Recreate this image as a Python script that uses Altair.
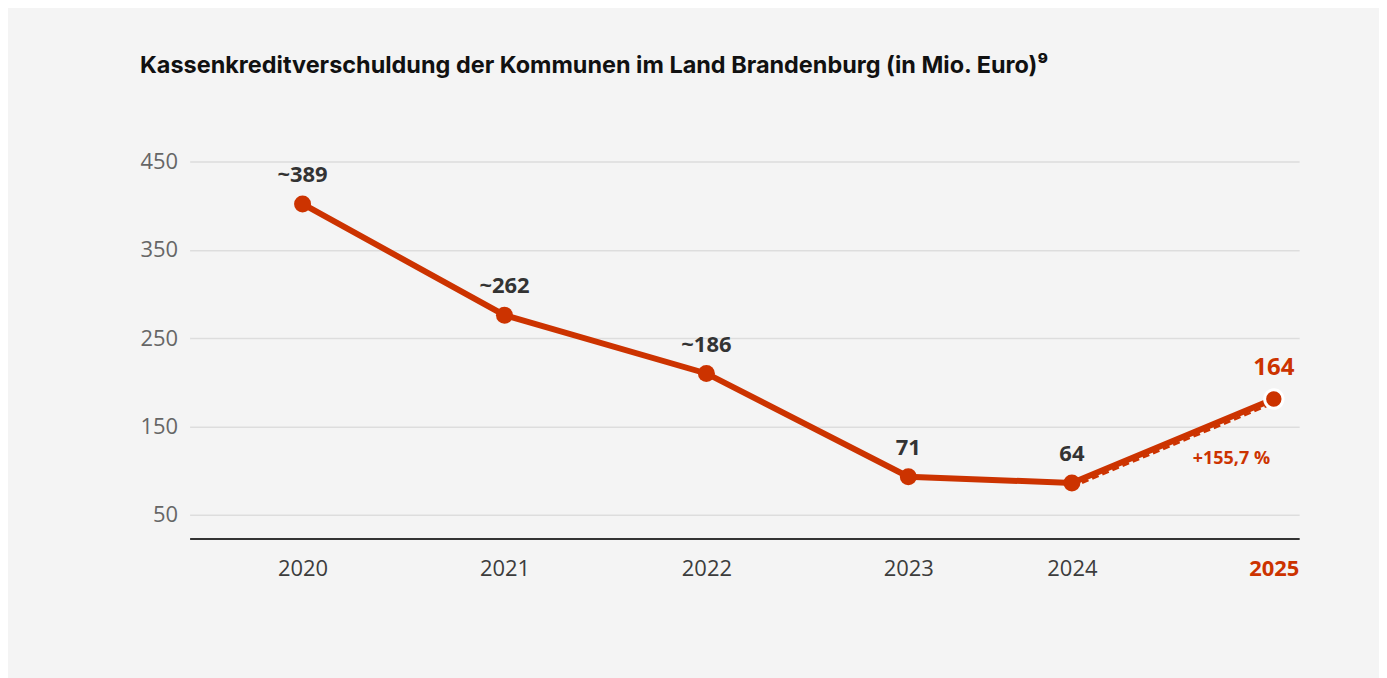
import altair as alt
import pandas as pd

# ---- data ----
years = ["2020", "2021", "2022", "2023", "2024", "2025"]
# position on the time axis as drawn in the reference (2024/2025 sit closer together)
x_pos = [2020.0, 2021.0, 2022.0, 2023.0, 2023.81, 2024.81]
# plotted heights of the points (as drawn)
values = [402, 276, 210, 93, 86, 181]
# printed labels above the points
labels = ["~389", "~262", "~186", "71", "64", "164"]
y_ticks = [50, 150, 250, 350, 450]
change_text = ["+155,7 %"]
change_x = [2024.60]
change_y = [113]

RED = "#cc3300"
DARK = "#333333"
TITLE = "Kassenkreditverschuldung der Kommunen im Land Brandenburg (in Mio. Euro)\u2079"

df = pd.DataFrame({
    "year": years,
    "x": x_pos,
    "value": values,
    "label": labels,
    "last": [False] * (len(years) - 1) + [True],
})
ann = pd.DataFrame({"x": change_x, "y": change_y, "text": change_text})

label_map = " : ".join(
    [f"abs(datum.value - {p}) < 0.01 ? '{y}'" for p, y in zip(x_pos, years)]
) + " : ''"

x_scale = alt.Scale(domain=[2019.4406, 2024.9356], nice=False, zero=False)
y_scale = alt.Scale(domain=[23, 475], nice=False, zero=False)

x_enc = alt.X(
    "x:Q",
    scale=x_scale,
    axis=alt.Axis(
        values=x_pos,
        labelExpr=label_map,
        title=None,
        grid=False,
        ticks=False,
        domain=True,
        domainColor=DARK,
        domainWidth=2,
        labelFont="Open Sans",
        labelFontSize=22,
        labelPadding=20,
        labelColor=alt.expr(f"datum.value > 2024.5 ? '{RED}' : '#3c3c3c'"),
        labelFontWeight=alt.expr("datum.value > 2024.5 ? 'bold' : 'normal'"),
    ),
)
y_enc = alt.Y(
    "value:Q",
    scale=y_scale,
    axis=alt.Axis(
        values=y_ticks,
        title=None,
        grid=True,
        gridColor="#dddddd",
        gridWidth=1.5,
        ticks=False,
        domain=False,
        labelFont="Open Sans",
        labelFontSize=22,
        labelColor="#666666",
        labelPadding=12,
    ),
)

base = alt.Chart(df)

dashed = base.transform_filter("datum.x > 2023.5").mark_line(
    color=RED, strokeWidth=2.5, strokeDash=[7, 4], yOffset=4
).encode(x=x_enc, y=y_enc)

line = base.mark_line(color=RED, strokeWidth=6).encode(x=x_enc, y=y_enc)

points = base.transform_filter("!datum.last").mark_circle(
    size=290, color=RED, opacity=1
).encode(x="x:Q", y="value:Q")

last_point = base.transform_filter("datum.last").mark_circle(
    size=340, color=RED, opacity=1, stroke="white", strokeWidth=3
).encode(x="x:Q", y="value:Q")

text = base.transform_filter("!datum.last").mark_text(
    font="Open Sans", fontSize=22, fontWeight="bold", dy=-22, baseline="alphabetic",
    color=DARK,
).encode(x="x:Q", y="value:Q", text="label:N")

last_text = base.transform_filter("datum.last").mark_text(
    font="Open Sans", fontSize=24, fontWeight="bold", dy=-24, baseline="alphabetic",
    color=RED,
).encode(x="x:Q", y="value:Q", text="label:N")

ann_text = alt.Chart(ann).mark_text(
    font="Open Sans", fontSize=18, fontWeight="bold", color=RED, baseline="middle"
).encode(x="x:Q", y="y:Q", text="text:N")

chart = alt.layer(dashed, line, points, last_point, text, last_text, ann_text).properties(
    width=1112,
    height=400,
    autosize=alt.AutoSizeParams(type="none"),
    padding={"left": 182, "top": 131, "right": 80, "bottom": 150},
    background="#f4f4f4",
    title=alt.TitleParams(
        TITLE,
        anchor="start",
        dx=0,
        offset=62,
        font="Inter",
        fontSize=23.5,
        fontWeight="bold",
        color="#111111",
    ),
).configure_view(stroke=None)

chart.save("out.html", embed_options={"renderer": "svg", "actions": False})
